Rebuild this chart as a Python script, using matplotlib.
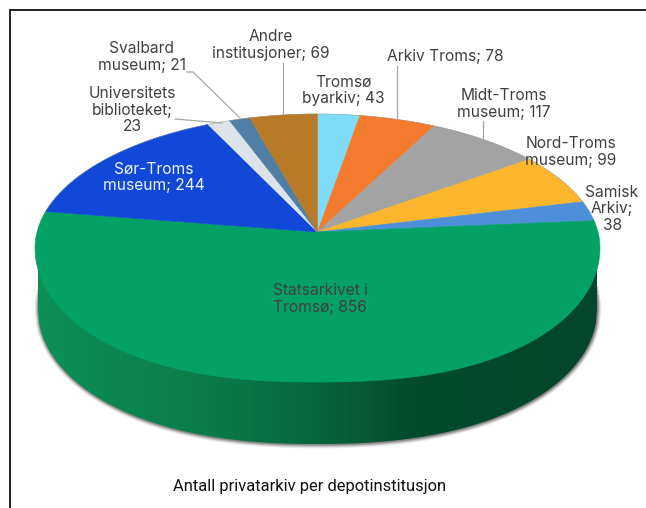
from __future__ import annotations

import numpy as np
import matplotlib
matplotlib.use("Agg")
import matplotlib.pyplot as plt
from matplotlib.colors import LinearSegmentedColormap
from matplotlib.patches import Polygon


labels = [
    "Tromsø\nbyarkiv; 43",
    "Arkiv Troms; 78",
    "Midt-Troms\nmuseum; 117",
    "Nord-Troms\nmuseum; 99",
    "Samisk\nArkiv;\n38",
    "Statsarkivet i\nTromsø; 856",
    "Sør-Troms\nmuseum; 244",
    "Universitets\nbiblioteket;\n23",
    "Svalbard\nmuseum; 21",
    "Andre\ninstitusjoner; 69",
]
values = [43, 78, 117, 99, 38, 856, 244, 23, 21, 69]
colors = ["#7fdcf8", "#f47b2e", "#a3a3a3", "#fbb62e", "#4d8fd8",
          "#04a166", "#1148d8", "#dde3e8", "#4f7fa6", "#b87a26"]
caption = "Antall privatarkiv per depotinstitusjon"

# pixel geometry of the tilted disc
CX, CY, A, B = 317.5, 248.0, 282.5, 134.0
APEX_Y = 232.0
# lower edge of the wall
BASE_X0, BASE_X1, BASE_CY, BASE_B = 38.0, 597.0, 310.0, 134.0


def rim(theta: np.ndarray) -> tuple[np.ndarray, np.ndarray]:
    # theta clockwise from 12 o'clock, perspective moves the centre up to the apex
    x, y = np.sin(theta), np.cos(theta)
    v0 = (CY - APEX_Y) / B
    d = 1 + v0 * y
    u = x * np.sqrt(1 - v0**2) / d
    v = (y + v0) / d
    # front of the disc is a bit squarer than an ellipse
    front = v < 0
    v[front] = -np.sqrt(np.clip(1 - np.abs(u[front]) ** 2.4, 0, 1))
    return CX + A * u, CY - B * v


def base_curve(grow: float = 0.0) -> tuple[np.ndarray, np.ndarray]:
    mid = (BASE_X0 + BASE_X1) / 2
    half = (BASE_X1 - BASE_X0) / 2
    u = np.linspace(-1, 1, 500)
    xs = mid + (half + grow) * u
    ys = BASE_CY + (BASE_B + grow) * np.sqrt(np.clip(1 - np.abs(u) ** 2.3, 0, 1))
    return xs, ys


def draw_side(ax) -> None:
    # soft shadow under the wall
    for grow, alpha in zip([4.0, 3.2, 2.4, 1.6, 0.8], [0.06, 0.1, 0.14, 0.2, 0.28]):
        sx, sy = base_curve(grow)
        start = np.full_like(sy, 282.0 + grow * 5)
        ax.fill_between(sx, start, sy, color="#333333", alpha=alpha, lw=0, zorder=1)

    cmap = LinearSegmentedColormap.from_list("wall", [
        (0.0, "#0c9058"), (0.30, "#0a7c4a"), (0.50, "#07653e"),
        (0.68, "#044a2d"), (1.0, "#03462b"),
    ])
    grad = np.linspace(0, 1, 512).reshape(1, -1)
    im = ax.imshow(grad, cmap=cmap, extent=(BASE_X0, BASE_X1, 460, 240), aspect="auto", zorder=2)
    xs, ys = base_curve()
    outline = Polygon(np.r_[[[BASE_X0, 240]], np.c_[xs, ys], [[BASE_X1, 240]]], transform=ax.transData)
    im.set_clip_path(outline)


def draw_top(ax) -> None:
    fractions = np.array(values) / sum(values)
    edges = np.r_[0, np.cumsum(fractions)] * 2 * np.pi
    for start, end, color in zip(edges[:-1], edges[1:], colors):
        theta = np.linspace(start, end, 300)
        x, y = rim(theta)
        pts = np.r_[[[CX, APEX_Y]], np.c_[x, y]]
        ax.add_patch(Polygon(pts, closed=True, facecolor=color, edgecolor=color, lw=0.4, zorder=3))
    # thin grey rim along the back
    x, y = rim(np.linspace(-1.5, 1.4, 300))
    ax.plot(x, y, color="#8c8c8c", lw=0.5, alpha=0.5, zorder=4)


def main() -> None:
    fig = plt.figure(figsize=(6.46, 5.08), dpi=100)
    ax = fig.add_axes([0, 0, 1, 1])

    draw_side(ax)
    draw_top(ax)

    ax.set_xlim(0, 646)
    ax.set_ylim(508, 0)
    ax.axis("off")

    # frame: only top and left are visible
    ax.plot([10, 646], [9.5, 9.5], color="#111111", lw=1.3, zorder=6, solid_capstyle="butt")
    ax.plot([10, 10], [9, 508], color="#111111", lw=1.3, zorder=6, solid_capstyle="butt")

    # leader lines
    leaders = [
        ([283, 283], [63, 114]),
        ([397, 397], [66, 118]),
        ([483, 483], [121, 138]),
        ([187, 193, 240], [72, 72, 118]),
        ([175, 222], [119, 123]),
    ]
    for lx, ly in leaders:
        ax.plot(lx, ly, color="#a6a6a6", lw=0.9, zorder=5)

    positions = [(343, 90), (445, 57), (504, 104), (571, 152), (612, 209),
                 (320, 299), (154, 177), (132, 110), (142, 57), (271, 45)]
    for i, (text, (tx, ty)) in enumerate(zip(labels, positions)):
        color = "#eef3ff" if i == 6 else "#404040"
        ax.text(tx, ty, text, ha="center", va="center", fontsize=11.2, family="Inter",
                color=color, linespacing=1.1, zorder=7)

    ax.text(310, 487, caption, ha="center", va="center", fontsize=11.9, family="Roboto",
            color="#111111", zorder=7)

    fig.savefig("out.png", dpi=100)
    plt.close(fig)


if __name__ == "__main__":
    main()
